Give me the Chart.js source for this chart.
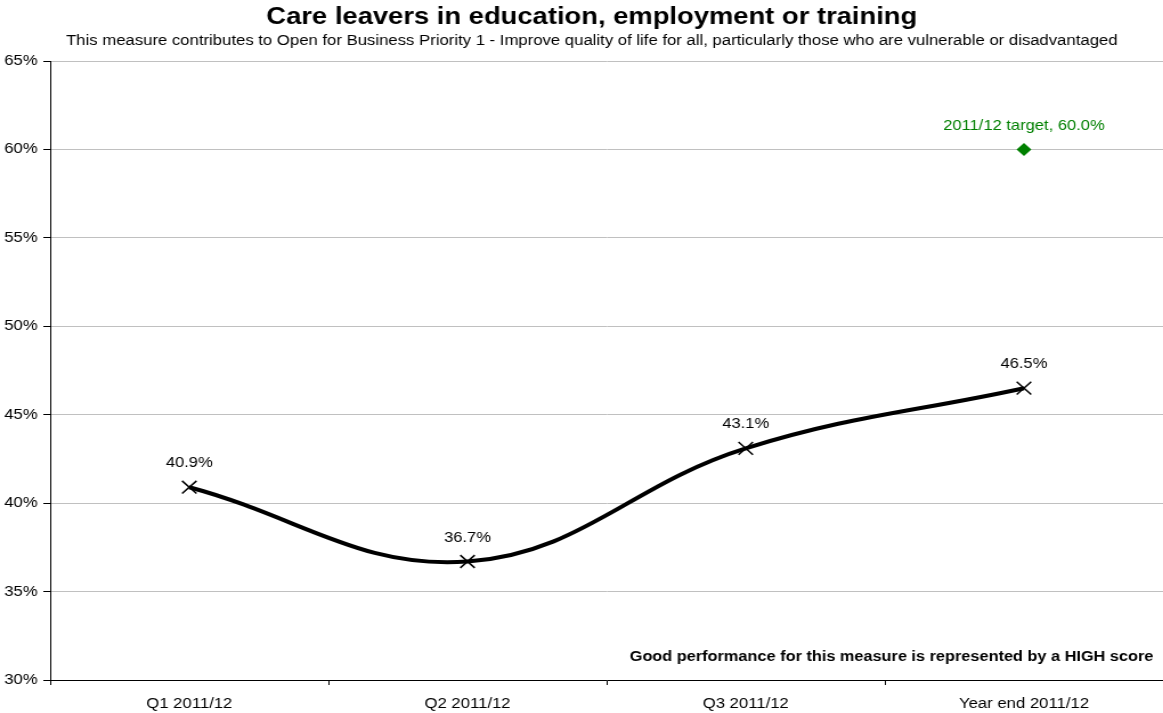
<!DOCTYPE html>
<html>
<head>
<meta charset="utf-8">
<script src="https://cdn.jsdelivr.net/npm/chart.js@4/dist/chart.umd.min.js"></script>
<style>
  html, body { margin: 0; padding: 0; background: #fff; overflow: hidden; }
  /* chart is laid out narrower and stretched sideways to the full width */
  #wrap { width: 1020px; height: 713px; position: relative;
          transform: scaleX(1.14025); transform-origin: 0 0; }
</style>
</head>
<body>
<div id="wrap"><canvas id="myChart"></canvas></div>
<script>
const periods = ["Q1 2011/12", "Q2 2011/12", "Q3 2011/12", "Year end 2011/12"];
const actual = [40.9, 36.7, 43.1, 46.5];
const target = [null, null, null, 60.0];
const targetLabel = "2011/12 target, 60.0%";
const yTicks = [30, 35, 40, 45, 50, 55, 60, 65];
const title = "Care leavers in education, employment or training";
const subtitle = "This measure contributes to Open for Business Priority 1 - Improve quality of life for all, particularly those who are vulnerable or disadvantaged";
const note = "Good performance for this measure is represented by a HIGH score";

const FONT = "'Liberation Sans', Arial, sans-serif";
const GREEN = '#008000';

// heading lines above the plot
const headingPlugin = {
    id: 'heading',
    afterDraw(chart){
        const ctx = chart.ctx;
        const cx = 519;
        ctx.save();
        ctx.textAlign = 'center';
        ctx.textBaseline = 'alphabetic';
        ctx.fillStyle = '#000';
        ctx.font = 'bold 24px ' + FONT;
        ctx.fillText(title, cx, 24);
        ctx.font = '14.67px ' + FONT;
        ctx.fillText(subtitle, cx, 45);
        ctx.restore();
    }
};

// labels over the points, plus the note in the bottom corner
const labelPlugin = {
    id: 'labels',
    afterDatasetsDraw(chart){
        const ctx = chart.ctx;
        ctx.save();
        ctx.textAlign = 'center';
        ctx.textBaseline = 'middle';
        ctx.font = '14.5px ' + FONT;
        ctx.fillStyle = '#000';
        chart.getDatasetMeta(0).data.forEach((pt, i) => {
            ctx.fillText(actual[i].toFixed(1) + '%', pt.x, pt.y - 24);
        });
        ctx.fillStyle = GREEN;
        chart.getDatasetMeta(1).data.forEach((pt, i) => {
            if (target[i] == null) return;
            ctx.fillText(targetLabel, pt.x, pt.y - 23);
        });
        const area = chart.chartArea;
        ctx.font = 'bold 14.3px ' + FONT;
        ctx.fillStyle = '#000';
        ctx.textAlign = 'right';
        ctx.fillText(note, area.right - 8.5, area.bottom - 23);
        ctx.restore();
    }
};

var ctx = document.getElementById('myChart').getContext('2d');
var chart = new Chart(ctx, {
    type: 'line',
    data: {
        labels: periods,
        datasets: [{
            label: 'Actual',
            data: actual,
            borderColor: '#000',
            borderWidth: 4,
            tension: 0.4,
            pointStyle: 'crossRot',
            pointRadius: 9,
            pointBorderWidth: 1.5,
            pointBorderColor: '#000',
            pointBackgroundColor: '#000',
            fill: false
        }, {
            label: 'Target',
            data: target,
            showLine: false,
            pointStyle: 'rectRot',
            pointRadius: 6.5,
            pointBackgroundColor: GREEN,
            pointBorderColor: GREEN,
            pointBorderWidth: 0
        }]
    },
    options: {
        responsive: true,
        maintainAspectRatio: false,
        animation: false,
        layout: { autoPadding: false, padding: { left: 0, right: 0, top: 61, bottom: 0 } },
        plugins: {
            legend: { display: false },
            tooltip: { enabled: false },
            title: { display: false }
        },
        scales: {
            x: {
                offset: true,
                grid: {
                    offset: true,
                    drawOnChartArea: false,
                    drawTicks: true,
                    tickLength: 5,
                    tickColor: '#000'
                },
                border: { color: '#000', width: 1 },
                ticks: {
                    color: '#000',
                    font: { family: FONT, size: 14.67 },
                    maxRotation: 0,
                    padding: 10
                },
                afterFit(scale){
                    scale.height = 33;
                    scale.paddingLeft = 0;
                    scale.paddingRight = 0;
                }
            },
            y: {
                min: 30,
                max: 65,
                afterBuildTicks(scale){
                    scale.ticks = yTicks.map(v => ({ value: v }));
                },
                grid: {
                    color: '#c0c0c0',
                    tickColor: '#000',
                    tickLength: 6
                },
                border: { color: '#000', width: 1 },
                ticks: {
                    color: '#000',
                    font: { family: FONT, size: 14.67 },
                    padding: 5,
                    callback: v => v + '%'
                },
                afterFit(scale){ scale.width = 44; }
            }
        }
    },
    plugins: [headingPlugin, labelPlugin]
});
</script>
</body>
</html>
